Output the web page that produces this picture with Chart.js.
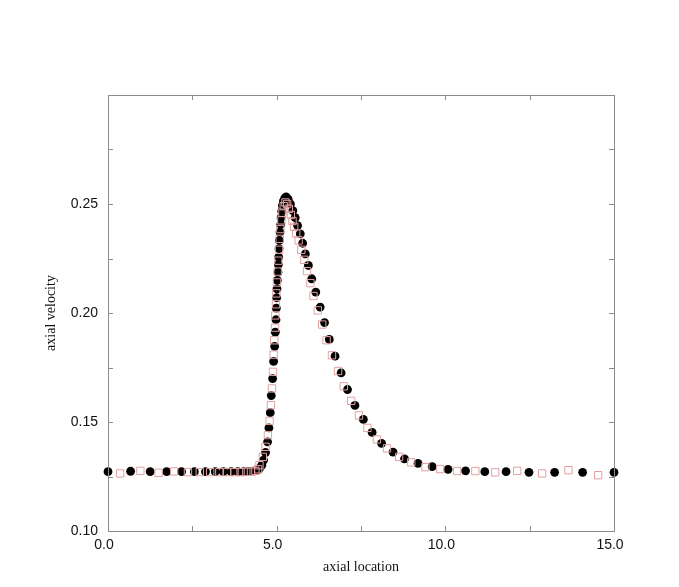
<!DOCTYPE html>
<html>
<head>
<meta charset="utf-8">
<script src="https://cdn.jsdelivr.net/npm/chart.js@4"></script>
<style>
  html, body { margin: 0; padding: 0; background: #fff; }
  #wrap { width: 679px; height: 587px; }
</style>
</head>
<body>
<div id="wrap"><canvas id="c" width="679" height="587"></canvas></div>
<script>
// Series 1: filled black circles
const circleX = [0.00, 0.67, 1.25, 1.74, 2.18, 2.56, 2.89, 3.18, 3.42, 3.65, 3.85, 4.02, 4.17, 4.31, 4.43,
  4.49, 4.56, 4.61, 4.67, 4.73, 4.77, 4.81, 4.84, 4.88, 4.91, 4.94, 4.96, 4.98, 4.99, 5.00,
  5.01, 5.02, 5.04, 5.05, 5.06, 5.07, 5.08, 5.10, 5.12, 5.13, 5.15, 5.17, 5.20, 5.24, 5.28,
  5.34, 5.41, 5.48, 5.55, 5.62, 5.70, 5.77, 5.85, 5.94, 6.04, 6.16, 6.29, 6.42, 6.56, 6.73,
  6.91, 7.10, 7.32, 7.57, 7.83, 8.11, 8.45, 8.79, 9.19, 9.61, 10.08, 10.60, 11.17, 11.80,
  12.48, 13.24, 14.07, 15.00];
const circleY = [0.1272, 0.1274, 0.1272, 0.1272, 0.1272, 0.1272, 0.1272, 0.1272, 0.1272, 0.1272, 0.1272, 0.1272, 0.1273, 0.1275, 0.1279,
  0.1287, 0.1302, 0.1325, 0.1360, 0.1409, 0.1473, 0.1543, 0.1621, 0.1699, 0.1778, 0.1847, 0.1912, 0.1969, 0.2022, 0.2070,
  0.2111, 0.2150, 0.2188, 0.2222, 0.2256, 0.2295, 0.2333, 0.2371, 0.2406, 0.2437, 0.2467, 0.2493, 0.2513, 0.2527, 0.2533,
  0.2522, 0.2500, 0.2470, 0.2437, 0.2401, 0.2363, 0.2320, 0.2271, 0.2218, 0.2157, 0.2096, 0.2027, 0.1956, 0.1879, 0.1802,
  0.1725, 0.1649, 0.1576, 0.1512, 0.1452, 0.1402, 0.1362, 0.1331, 0.1310, 0.1295, 0.1283, 0.1276, 0.1272, 0.1272,
  0.1269, 0.1269, 0.1269, 0.1269];

// Series 2: hollow pink squares
const squareX = [0.36, 0.96, 1.50, 1.96, 2.37, 2.72, 3.03, 3.30, 3.53, 3.75, 3.93, 4.10, 4.24, 4.37, 4.45,
  4.49, 4.59, 4.67, 4.74, 4.79, 4.83, 4.86, 4.89, 4.91, 4.93, 4.95, 4.96, 4.98, 4.99, 5.01,
  5.03, 5.05, 5.07, 5.09, 5.11, 5.14, 5.17, 5.21, 5.26,
  5.31, 5.36, 5.42, 5.47, 5.52, 5.58, 5.65, 5.73, 5.82, 5.90, 6.00, 6.09, 6.22, 6.35, 6.48,
  6.64, 6.82, 6.99, 7.21, 7.44, 7.69, 7.97, 8.27, 8.63, 8.99, 9.41, 9.85, 10.35, 10.89,
  11.48, 12.13, 12.87, 13.65, 14.53];
const squareY = [0.1264, 0.1276, 0.1267, 0.1273, 0.1270, 0.1270, 0.1270, 0.1270, 0.1270, 0.1270, 0.1270, 0.1271, 0.1272, 0.1276, 0.1283,
  0.1302, 0.1340, 0.1386, 0.1440, 0.1505, 0.1577, 0.1654, 0.1730, 0.1809, 0.1875, 0.1933, 0.1989, 0.2040, 0.2090, 0.2140,
  0.2190, 0.2240, 0.2290, 0.2340, 0.2385, 0.2425, 0.2460, 0.2490, 0.2507,
  0.2500, 0.2478, 0.2450, 0.2422, 0.2395, 0.2365, 0.2333, 0.2290, 0.2244, 0.2192, 0.2137, 0.2078, 0.2012, 0.1947, 0.1875,
  0.1806, 0.1734, 0.1664, 0.1597, 0.1530, 0.1473, 0.1420, 0.1379, 0.1340, 0.1315, 0.1293, 0.1284, 0.1275, 0.1275,
  0.1269, 0.1276, 0.1264, 0.1279, 0.1256];

const xTickLabels = ['0.0', '5.0', '10.0', '15.0'];
const yTickLabels = ['0.10', '0.15', '0.20', '0.25'];
const xTitle = 'axial location';
const yTitle = 'axial velocity';

const pts = (xs, ys) => xs.map((x, i) => ({ x: x, y: ys[i] }));

const frameColor = '#8c8c8c';

const framePlugin = {
  id: 'frame',
  afterDatasetsDraw(chart) {
    const { ctx, chartArea: a, scales } = chart;
    ctx.save();
    ctx.strokeStyle = frameColor;
    ctx.lineWidth = 1;
    ctx.strokeRect(Math.round(a.left) + 0.5, Math.round(a.top) + 0.5,
                   Math.round(a.right - a.left), Math.round(a.bottom - a.top));
    const L = 5;
    ctx.beginPath();
    scales.x.ticks.forEach(t => {
      const px = Math.round(scales.x.getPixelForValue(t.value)) + 0.5;
      ctx.moveTo(px, a.bottom); ctx.lineTo(px, a.bottom - L);
      ctx.moveTo(px, a.top); ctx.lineTo(px, a.top + L);
    });
    scales.y.ticks.forEach(t => {
      const py = Math.round(scales.y.getPixelForValue(t.value)) + 0.5;
      ctx.moveTo(a.left, py); ctx.lineTo(a.left + L, py);
      ctx.moveTo(a.right, py); ctx.lineTo(a.right - L, py);
    });
    ctx.stroke();
    ctx.restore();
  }
};

new Chart(document.getElementById('c'), {
  type: 'scatter',
  data: {
    datasets: [
      {
        label: 'circles',
        data: pts(circleX, circleY),
        pointStyle: 'circle',
        pointRadius: 4.4,
        pointHoverRadius: 4.4,
        backgroundColor: '#000',
        borderColor: '#000',
        borderWidth: 0,
        showLine: false,
        clip: false,
        order: 2
      },
      {
        label: 'squares',
        data: pts(squareX, squareY),
        pointStyle: 'rect',
        pointRadius: 5.2,
        pointHoverRadius: 5.2,
        backgroundColor: 'rgba(0,0,0,0)',
        borderColor: 'rgb(228,160,160)',
        borderWidth: 1,
        showLine: false,
        clip: false,
        order: 1
      }
    ]
  },
  options: {
    responsive: false,
    animation: false,
    events: [],
    layout: { padding: { left: 0, top: 95, right: 65, bottom: 0 } },
    plugins: { legend: { display: false }, tooltip: { enabled: false } },
    scales: {
      x: {
        type: 'linear',
        min: 0, max: 15,
        afterFit(s) { s.height = 56; },
        afterBuildTicks(s) {
          s.ticks = [0, 2.5, 5, 7.5, 10, 12.5, 15].map(v => ({ value: v }));
        },
        grid: { display: false, drawTicks: false },
        border: { display: true, color: frameColor },
        ticks: {
          autoSkip: false,
          maxRotation: 0,
          padding: 6,
          labelOffset: -4,
          color: '#111',
          font: { family: 'Liberation Sans', size: 14 },
          callback: (v) => {
            const i = [0, 5, 10, 15].indexOf(v);
            return i >= 0 ? xTickLabels[i] : '';
          }
        },
        title: {
          display: true,
          text: xTitle,
          color: '#111',
          font: { family: 'Liberation Serif', size: 14 },
          padding: { top: 4, bottom: 11 }
        }
      },
      y: {
        type: 'linear',
        min: 0.10, max: 0.30,
        afterFit(s) { s.width = 108; },
        afterBuildTicks(s) {
          s.ticks = [0.10, 0.125, 0.15, 0.175, 0.20, 0.225, 0.25, 0.275, 0.30].map(v => ({ value: v }));
        },
        grid: { display: false, drawTicks: false },
        border: { display: true, color: frameColor },
        ticks: {
          autoSkip: false,
          padding: 10,
          color: '#111',
          font: { family: 'Liberation Sans', size: 14 },
          callback: (v) => {
            const i = [0.10, 0.15, 0.20, 0.25].findIndex(t => Math.abs(t - v) < 1e-6);
            return i >= 0 ? yTickLabels[i] : '';
          }
        },
        title: {
          display: true,
          text: yTitle,
          color: '#111',
          font: { family: 'Liberation Serif', size: 14 },
          padding: { top: 43, bottom: 0 }
        }
      }
    }
  },
  plugins: [framePlugin]
});
</script>
</body>
</html>
